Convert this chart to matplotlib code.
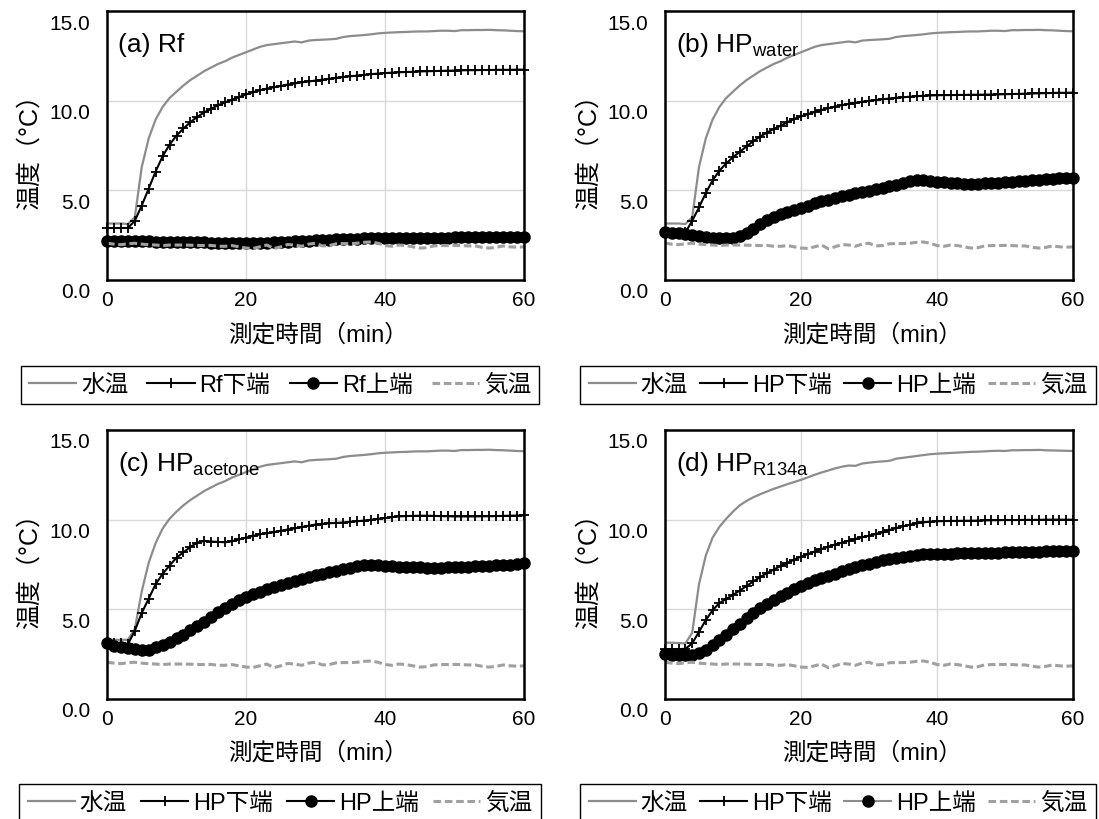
import matplotlib
matplotlib.use("Agg")
import matplotlib.pyplot as plt
from matplotlib.transforms import ScaledTranslation

plt.rcParams['font.family'] = ['Liberation Sans', 'Noto Sans CJK JP', 'DejaVu Sans']

# ---------------- data ----------------
TIME_MIN = list(range(61))

WATER_AB = [3.15, 3.15, 3.15, 3.12, 3.5, 6.3, 7.9, 8.95, 9.65, 10.15,
            10.5, 10.85, 11.15, 11.4, 11.65, 11.85, 12.05, 12.2, 12.4, 12.55,
            12.7, 12.85, 13.0, 13.1, 13.15, 13.2, 13.25, 13.3, 13.25, 13.35,
            13.38, 13.4, 13.42, 13.45, 13.55, 13.6, 13.63, 13.66, 13.7, 13.75,
            13.78, 13.8, 13.82, 13.83, 13.85, 13.86, 13.86, 13.88, 13.9, 13.9,
            13.88, 13.93, 13.93, 13.94, 13.94, 13.95, 13.93, 13.92, 13.9, 13.88,
            13.87]
WATER_C = [3.3, 3.3, 3.3, 3.3, 3.9, 6.0, 7.6, 8.7, 9.5, 10.05,
           10.45, 10.8, 11.1, 11.35, 11.6, 11.8, 12.0, 12.15, 12.35, 12.5,
           12.65, 12.8, 12.95, 13.05, 13.1, 13.15, 13.2, 13.25, 13.2, 13.3,
           13.33, 13.35, 13.37, 13.4, 13.5, 13.55, 13.58, 13.61, 13.65, 13.7,
           13.73, 13.75, 13.77, 13.78, 13.8, 13.81, 13.81, 13.83, 13.85, 13.85,
           13.83, 13.88, 13.88, 13.89, 13.89, 13.9, 13.88, 13.87, 13.85, 13.83,
           13.82]
WATER_D = [3.14, 3.14, 3.12, 3.1, 3.7, 6.4, 8.0, 9.0, 9.6, 10.05,
           10.45, 10.8, 11.05, 11.25, 11.42, 11.57, 11.72, 11.85, 11.98, 12.1,
           12.22, 12.36, 12.5, 12.63, 12.74, 12.86, 12.95, 13.02, 13.0, 13.13,
           13.18, 13.22, 13.25, 13.28, 13.4, 13.45, 13.5, 13.55, 13.6, 13.65,
           13.68, 13.7, 13.72, 13.74, 13.76, 13.78, 13.79, 13.81, 13.83, 13.84,
           13.83, 13.87, 13.87, 13.88, 13.88, 13.89, 13.87, 13.86, 13.85, 13.84,
           13.83]

AIR = [2.05, 2.0, 1.97, 2.02, 2.05, 2.0, 1.97, 1.95, 1.92, 1.95,
       1.95, 1.95, 1.94, 1.93, 1.92, 1.93, 1.88, 1.88, 1.92, 1.85,
       1.78, 1.76, 1.85, 1.95, 1.75, 1.85, 1.98, 1.95, 1.88, 2.0,
       2.05, 1.9, 1.92, 2.02, 2.03, 2.03, 2.05, 2.1, 2.12, 2.05,
       1.92, 1.88, 1.95, 1.92, 1.85, 1.78, 1.8, 1.9, 1.92, 1.92,
       1.93, 1.92, 1.9, 1.9, 1.82, 1.78, 1.82, 1.9, 1.85, 1.83,
       1.85]

LOWER_A = [2.9, 2.9, 2.9, 2.9, 3.3, 4.15, 5.1, 6.05, 6.9, 7.55,
           8.05, 8.45, 8.8, 9.1, 9.35, 9.55, 9.75, 9.9, 10.05, 10.2,
           10.35, 10.47, 10.58, 10.67, 10.75, 10.82, 10.9, 10.96, 11.02, 11.07,
           11.12, 11.17, 11.22, 11.27, 11.32, 11.36, 11.4, 11.44, 11.48, 11.51,
           11.54, 11.56, 11.58, 11.6, 11.61, 11.63, 11.64, 11.65, 11.66, 11.67,
           11.68, 11.69, 11.7, 11.7, 11.71, 11.71, 11.72, 11.72, 11.72, 11.73,
           11.73]
UPPER_A = [2.2, 2.19, 2.18, 2.17, 2.16, 2.16, 2.15, 2.14, 2.14, 2.13,
           2.12, 2.11, 2.11, 2.1, 2.1, 2.09, 2.08, 2.07, 2.07, 2.06,
           2.05, 2.04, 2.06, 2.08, 2.1, 2.12, 2.14, 2.16, 2.18, 2.2,
           2.21, 2.23, 2.24, 2.26, 2.28, 2.3, 2.31, 2.33, 2.34, 2.35,
           2.35, 2.35, 2.35, 2.35, 2.36, 2.36, 2.36, 2.36, 2.36, 2.36,
           2.37, 2.37, 2.37, 2.37, 2.37, 2.37, 2.38, 2.38, 2.38, 2.38,
           2.38]

LOWER_B = [2.6, 2.6, 2.6, 2.65, 3.3, 4.05, 4.85, 5.55, 6.1, 6.5,
           6.85, 7.15, 7.45, 7.75, 8.0, 8.22, 8.42, 8.6, 8.8, 8.98,
           9.12, 9.25, 9.37, 9.48, 9.58, 9.67, 9.75, 9.82, 9.88, 9.94,
           9.99, 10.04, 10.08, 10.12, 10.16, 10.19, 10.22, 10.25, 10.27, 10.29,
           10.3, 10.31, 10.31, 10.32, 10.32, 10.33, 10.33, 10.34, 10.34, 10.35,
           10.36, 10.37, 10.38, 10.39, 10.4, 10.41, 10.42, 10.43, 10.44, 10.44,
           10.45]
UPPER_B = [2.65, 2.62, 2.6, 2.57, 2.52, 2.46, 2.4, 2.35, 2.32, 2.32,
           2.36, 2.47, 2.64, 2.87, 3.1, 3.33, 3.53, 3.68, 3.8, 3.9,
           4.0, 4.14, 4.27, 4.38, 4.48, 4.57, 4.66, 4.76, 4.86, 4.93,
           4.99, 5.06, 5.13, 5.22, 5.31, 5.41, 5.5, 5.55, 5.56, 5.52,
           5.47, 5.44, 5.41, 5.39, 5.38, 5.38, 5.38, 5.39, 5.41, 5.43,
           5.45, 5.47, 5.5, 5.53, 5.56, 5.59, 5.62, 5.64, 5.66, 5.68,
           5.7]

LOWER_C = [3.2, 3.15, 3.1, 3.05, 3.8, 4.8, 5.6, 6.4, 6.98, 7.44,
           7.88, 8.18, 8.48, 8.72, 8.82, 8.78, 8.76, 8.74, 8.8, 8.9,
           9.0, 9.09, 9.18, 9.24, 9.3, 9.38, 9.45, 9.52, 9.58, 9.66,
           9.73, 9.77, 9.8, 9.82, 9.84, 9.88, 9.91, 9.95, 10.0, 10.05,
           10.09, 10.14, 10.18, 10.2, 10.21, 10.22, 10.22, 10.21, 10.2, 10.19,
           10.18, 10.18, 10.18, 10.18, 10.19, 10.19, 10.2, 10.21, 10.22, 10.23,
           10.24]
UPPER_C = [3.1, 2.97, 2.9, 2.86, 2.78, 2.73, 2.76, 2.88, 3.03, 3.2,
           3.38, 3.58, 3.82, 4.08, 4.32, 4.58, 4.85, 5.06, 5.28, 5.5,
           5.68, 5.83, 5.97, 6.11, 6.24, 6.36, 6.48, 6.59, 6.7, 6.8,
           6.89, 6.98, 7.07, 7.16, 7.25, 7.33, 7.4, 7.46, 7.49, 7.47,
           7.44, 7.41, 7.38, 7.36, 7.35, 7.34, 7.33, 7.33, 7.33, 7.34,
           7.34, 7.36, 7.38, 7.4, 7.42, 7.44, 7.46, 7.48, 7.5, 7.53,
           7.56]

LOWER_D = [2.78, 2.78, 2.78, 2.8, 3.1, 3.75, 4.4, 4.95, 5.35, 5.58,
           5.8, 6.05, 6.3, 6.56, 6.8, 7.02, 7.22, 7.41, 7.59, 7.77,
           7.94, 8.08, 8.22, 8.36, 8.49, 8.61, 8.72, 8.83, 8.93, 9.02,
           9.11, 9.2, 9.3, 9.42, 9.53, 9.63, 9.72, 9.79, 9.85, 9.89,
           9.91, 9.92, 9.93, 9.93, 9.94, 9.94, 9.95, 9.96, 9.97, 9.97,
           9.98, 9.98, 9.98, 9.99, 9.99, 9.99, 10.0, 10.0, 10.0, 10.0,
           10.0]
UPPER_D = [2.5, 2.47, 2.46, 2.46, 2.47, 2.55, 2.73, 3.0, 3.29, 3.57,
           3.88, 4.2, 4.52, 4.81, 5.08, 5.32, 5.54, 5.73, 5.92, 6.11,
           6.3, 6.46, 6.62, 6.74, 6.86, 6.99, 7.12, 7.24, 7.36, 7.45,
           7.54, 7.64, 7.73, 7.8, 7.86, 7.92, 7.97, 8.02, 8.06, 8.08,
           8.1, 8.11, 8.11, 8.12, 8.12, 8.13, 8.14, 8.15, 8.16, 8.16,
           8.17, 8.18, 8.19, 8.2, 8.21, 8.22, 8.23, 8.24, 8.25, 8.27,
           8.28]

PANEL_TITLES = ["(a) Rf", r"(b) HP$\mathregular{_{water}}$",
                r"(c) HP$\mathregular{_{acetone}}$", r"(d) HP$\mathregular{_{R134a}}$"]
LEGEND_LABELS = [["水温", "Rf下端", "Rf上端", "気温"],
                 ["水温", "HP下端", "HP上端", "気温"],
                 ["水温", "HP下端", "HP上端", "気温"],
                 ["水温", "HP下端", "HP上端", "気温"]]
PANEL_DATA = [(WATER_AB, LOWER_A, UPPER_A, AIR),
              (WATER_AB, LOWER_B, UPPER_B, AIR),
              (WATER_C, LOWER_C, UPPER_C, AIR),
              (WATER_D, LOWER_D, UPPER_D, AIR)]
Y_TICKS = [0, 5, 10, 15]
Y_TICK_LABELS = ["0.0", "5.0", "10.0", "15.0"]
X_TICKS = [0, 20, 40, 60]
X_LABEL = "測定時間（min）"
Y_LABEL = "温度（°C）"

# ---------------- layout ----------------
W, H = 1099, 820
fig = plt.figure(figsize=(W / 100, H / 100), dpi=100)
fig.patch.set_facecolor("white")

# (left, right, top, bottom) in pixels
RECTS = [(107, 524, 12, 281), (665, 1073, 12, 281),
         (107, 524, 431, 700), (665, 1073, 431, 700)]
YLABEL_X = [30, 589, 30, 589]
XLABEL_Y = [335, 335, 753, 753]
LEGEND_CENTER = [(280, 386), (838, 386), (280, 804), (838, 804)]
LEGEND_COLSPACING = [0.82, 0.52, 0.6, 0.52]

WATER_COLOR = "#8c8c8c"
AIR_COLOR = "#a0a0a0"
GRID_COLOR = "#d9d9d9"

offset = ScaledTranslation(0, -10 / 100, fig.dpi_scale_trans)

for i, (l, r, t, b) in enumerate(RECTS):
    ax = fig.add_axes([l / W, 1 - b / H, (r - l) / W, (b - t) / H])
    water, lower, upper, air = PANEL_DATA[i]
    ax.set_xlim(0, 60)
    ax.set_ylim(0, 15)
    ax.set_xticks(X_TICKS)
    ax.set_yticks(Y_TICKS)
    ax.set_yticklabels(Y_TICK_LABELS)
    ax.tick_params(axis="both", length=0, labelsize=15)
    ax.tick_params(axis="y", pad=12)
    ax.tick_params(axis="x", pad=7)
    for lab in ax.get_yticklabels():
        lab.set_transform(lab.get_transform() + offset)
    for x in (20, 40):
        ax.axvline(x, color=GRID_COLOR, lw=1.0, zorder=0)
    for y in (5, 10):
        ax.axhline(y, color=GRID_COLOR, lw=1.0, zorder=0)
    for sp in ax.spines.values():
        sp.set_linewidth(1.8)
        sp.set_color("black")
        sp.set_zorder(5)

    h1, = ax.plot(TIME_MIN, water, color=WATER_COLOR, lw=1.6, zorder=2)
    h2, = ax.plot(TIME_MIN, lower, color="black", lw=1.5, marker="+",
                  markersize=7.5, markeredgewidth=1.3, zorder=3, clip_on=False)
    up_line_color = WATER_COLOR if i == 3 else "black"
    h3, = ax.plot(TIME_MIN, upper, color=up_line_color, lw=1.5, marker="o",
                  markersize=8, markerfacecolor="black", markeredgecolor="black",
                  zorder=4, clip_on=False)
    h4, = ax.plot(TIME_MIN, air, color=AIR_COLOR, lw=2.2, dashes=(2.5, 1.2),
                  zorder=5)

    ax.text(0.027, 0.877, PANEL_TITLES[i], transform=ax.transAxes,
            fontsize=19, ha="left", va="center")

    cx = (l + r) / 2
    fig.text(cx / W + 3 / W, 1 - XLABEL_Y[i] / H, X_LABEL, fontsize=17,
             ha="center", va="center")
    fig.text(YLABEL_X[i] / W, 1 - ((t + b) / 2) / H, Y_LABEL, fontsize=18,
             rotation=90, ha="center", va="center")

    lcx, lcy = LEGEND_CENTER[i]
    leg = fig.legend([h1, h2, h3, h4], LEGEND_LABELS[i], loc="center",
                     bbox_to_anchor=(lcx / W, 1 - lcy / H), ncol=4,
                     fontsize=17, frameon=True, fancybox=False,
                     edgecolor="black", framealpha=1, borderpad=0.35,
                     handlelength=2.0, handletextpad=0.2,
                     columnspacing=LEGEND_COLSPACING[i], borderaxespad=0)
    leg.get_frame().set_linewidth(1.0)

fig.savefig("out.png", dpi=100)
